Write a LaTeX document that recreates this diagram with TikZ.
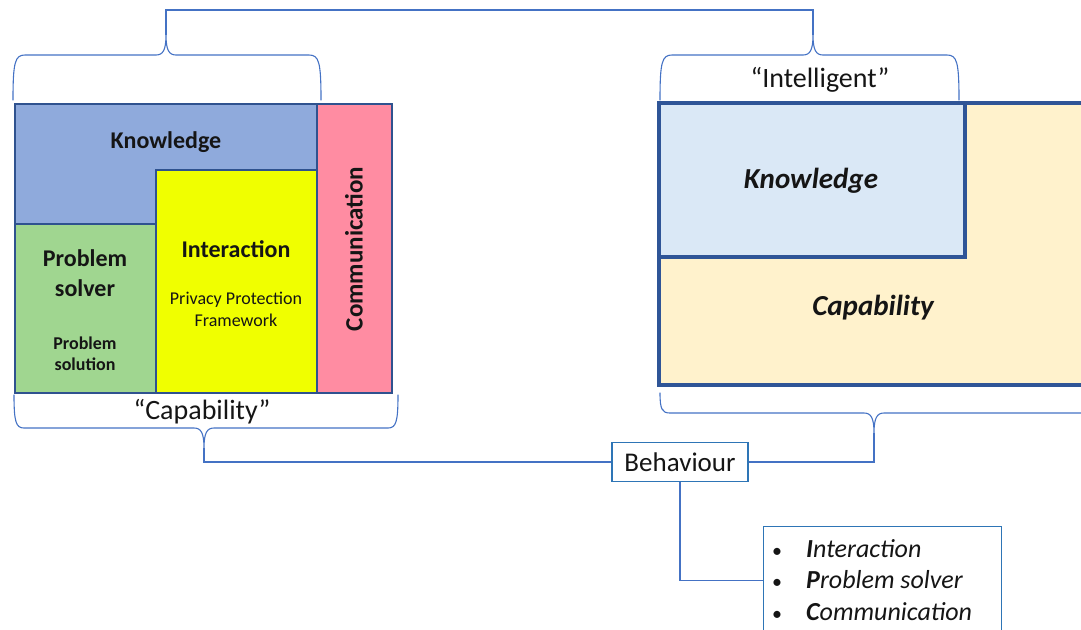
\documentclass[tikz,border=0pt]{standalone}
\usepackage{fontspec}
\setmainfont{Carlito}
\begin{document}
\begin{tikzpicture}[x=1pt,y=-1pt,
  cell/.style={draw=cellrim,line width=1.3pt},
  bigrim/.style={draw=bigrim,line width=3.2pt},
  brace/.style={draw=linkblue,line width=1.1pt,line cap=round,line join=round},
  link/.style={draw=linkblue,line width=1.1pt},
  lbl/.style={inner sep=0pt,text=ink,align=center},
  framebox/.style={draw=boxblue,line width=1.4pt,fill=white}]
\definecolor{cellrim}{HTML}{2F528F}
\definecolor{bigrim}{HTML}{2F5597}
\definecolor{linkblue}{HTML}{4472C4}
\definecolor{boxblue}{HTML}{2E75B6}
\definecolor{ink}{HTML}{151515}
\definecolor{knowblue}{HTML}{8FAADC}
\definecolor{solvegreen}{HTML}{A0D690}
\definecolor{interyellow}{HTML}{F0FF00}
\definecolor{commpink}{HTML}{FF8CA2}
\definecolor{paleblue}{HTML}{DAE8F6}
\definecolor{cream}{HTML}{FFF2CC}
\useasboundingbox (0,0) rectangle (1081,629);
\begin{scope}
\clip (0,0) rectangle (1081,629);

% ---- left block: knowledge / problem solver / interaction / communication
\draw[cell,fill=knowblue] (15,104) rectangle (317,224);
\draw[cell,fill=solvegreen] (15,224) rectangle (156,393);
\draw[cell,fill=interyellow] (156,170) rectangle (317,393);
\draw[cell,fill=commpink] (317,104) rectangle (392,393);

\node[lbl,font=\fontsize{24}{28}\selectfont\bfseries] (kn) at (166,142) {Knowledge};
\node[lbl,font=\fontsize{24}{30}\selectfont\bfseries] (ps) at (85,273) {Problem\\solver};
\node[lbl,font=\fontsize{18}{21}\selectfont\bfseries] (psol) at (85,354) {Problem\\solution};
\node[lbl,font=\fontsize{24}{28}\selectfont\bfseries] (ia) at (236,249) {Interaction};
\node[lbl,font=\fontsize{18}{22}\selectfont] (ppf) at (236,309) {Privacy Protection\\Framework};
\node[lbl,font=\fontsize{25}{28}\selectfont\bfseries,rotate=90] (com) at (354,249) {Communication};

% ---- right block: knowledge inside capability
\draw[bigrim,fill=cream] (659,103) rectangle (1110,385);
\draw[bigrim,fill=paleblue] (659,103) rectangle (965,257);
\node[lbl,font=\fontsize{29}{34}\selectfont\bfseries\itshape] (kn2) at (811,181) {Knowledge};
\node[lbl,font=\fontsize{29}{34}\selectfont\bfseries\itshape] (cap2) at (873,308) {Capability};

% ---- labels by the braces
\node[lbl,font=\fontsize{28}{32}\selectfont] (capq) at (202,412) {“Capability”};
\node[lbl,font=\fontsize{28}{32}\selectfont] (intq) at (820,80) {“Intelligent”};

% ---- braces
% top left, over the left block
\draw[brace] (13,100) .. controls (13,62) and (15,55) .. (25,55) -- (156,55)
  .. controls (163,55) and (166,50) .. (166,35)
  .. controls (166,50) and (169,55) .. (176,55) -- (309,55)
  .. controls (319,55) and (321,62) .. (321,100);
% top right, over "Intelligent"
\draw[brace] (660,100) .. controls (660,62) and (662,55) .. (672,55) -- (803,55)
  .. controls (810,55) and (813,50) .. (813,35)
  .. controls (813,50) and (816,55) .. (823,55) -- (947,55)
  .. controls (957,55) and (959,62) .. (959,100);
% bottom left, under "Capability"
\draw[brace] (14,395) .. controls (14,422) and (16,428) .. (24,428) -- (194,428)
  .. controls (201,428) and (204,433) .. (204,448)
  .. controls (204,433) and (207,428) .. (214,428) -- (388,428)
  .. controls (396,428) and (398,422) .. (398,395);
% bottom right, under the right block
\draw[brace] (660,393) .. controls (660,409) and (662,413) .. (670,413) -- (864,413)
  .. controls (871,413) and (874,418) .. (874,433)
  .. controls (874,418) and (877,413) .. (884,413) -- (1090,413);

\coordinate (lt) at (166,35);
\coordinate (rt) at (813,35);
\coordinate (lb) at (204,448);
\coordinate (rb) at (874,433);
\coordinate (top) at (490,10);

% ---- behaviour and its list
\node[framebox,lbl,font=\fontsize{27}{30}\selectfont,minimum width=136,minimum height=39]
  (beh) at (680,462) {Behaviour};
\node[framebox,anchor=north west,minimum width=238,minimum height=108,inner sep=0pt] (lst) at (763,526) {};
\node[lbl,anchor=west,align=left,font=\fontsize{26}{31.5}\selectfont\itshape] (items) at (772,580)
  {\makebox[34pt][l]{\upshape\fontsize{20}{31.5}\selectfont•}\textbf{I}nteraction\\
   \makebox[34pt][l]{\upshape\fontsize{20}{31.5}\selectfont•}\textbf{P}roblem solver\\
   \makebox[34pt][l]{\upshape\fontsize{20}{31.5}\selectfont•}\textbf{C}ommunication};

% ---- connectors
\draw[link] (lt) |- (top) -| (rt);
\draw[link] (lb) |- (beh.west);
\draw[link] (rb) |- (beh.east);
\draw[link] (beh.south) |- (lst.west);
\end{scope}
\end{tikzpicture}
\end{document}
